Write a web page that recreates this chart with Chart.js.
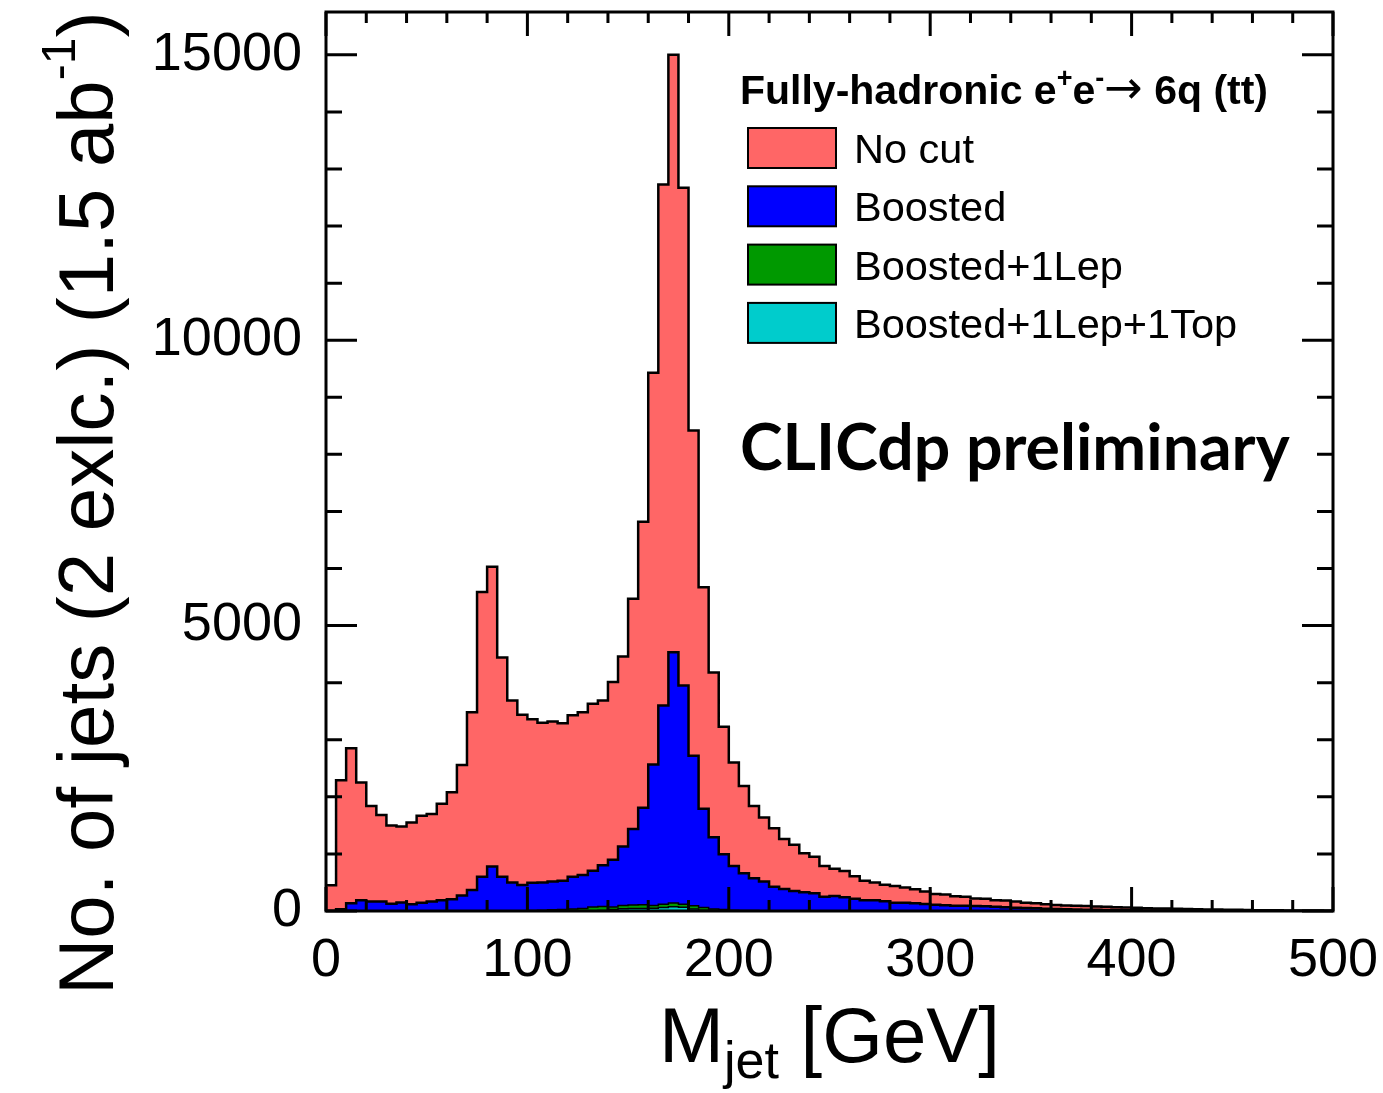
<!DOCTYPE html>
<html lang="en">
<head>
  <meta charset="UTF-8">
  <title>Jet mass - CLICdp preliminary</title>
  <script src="https://cdn.jsdelivr.net/npm/chart.js"></script>
  <style>
    html, body { margin: 0; padding: 0; background: #fff; }
    #grafico { display: block; }
  </style>
</head>
<body>
  <canvas id="grafico" width="1383" height="1093"></canvas>

  <script>
    // histogram: 100 bins of 5 GeV, from 0 to 500 GeV
    const BIN_WIDTH = 5;

    const noCut = [
      450, 2290, 2850, 2250, 1840, 1680, 1500, 1480, 1550, 1670,
      1700, 1880, 2080, 2560, 3480, 5590, 6030, 4440, 3690, 3440,
      3360, 3300, 3320, 3290, 3430, 3480, 3630, 3690, 4010, 4460,
      5470, 6820, 9430, 12730, 15000, 12670, 8420, 5670, 4180, 3230,
      2600, 2190, 1840, 1640, 1450, 1260, 1160, 1010, 950, 790,
      740, 700, 610, 530, 500, 460, 440, 410, 380, 340,
      300, 290, 260, 250, 220, 215, 190, 185, 165, 145,
      135, 120, 105, 95, 92, 88, 78, 75, 65, 60,
      55, 50, 45, 42, 40, 35, 30, 28, 25, 22,
      20, 18, 15, 14, 12, 10, 9, 8, 7, 6
    ];
    const boosted = [
      0, 30, 135, 190, 165, 165, 125, 150, 120, 145,
      165, 190, 205, 270, 370, 600, 780, 600, 500, 455,
      495, 500, 515, 530, 600, 630, 705, 800, 900, 1130,
      1435, 1810, 2565, 3600, 4535, 3950, 2720, 1790, 1290, 995,
      790, 660, 575, 515, 426, 386, 351, 327, 310, 251,
      263, 240, 216, 190, 187, 170, 146, 146, 135, 123,
      111, 100, 94, 94, 88, 82, 76, 65, 58, 52,
      46, 40, 35, 30, 27, 24, 20, 18, 16, 14,
      12, 10, 9, 8, 7, 6, 5, 5, 4, 4,
      3, 3, 2, 2, 2, 1, 1, 1, 1, 1
    ];
    const boosted1Lep = [
      0, 0, 0, 0, 0, 0, 0, 0, 0, 0,
      0, 0, 0, 0, 0, 0, 0, 0, 0, 0,
      10, 15, 20, 25, 35, 45, 70, 80, 70, 95,
      105, 110, 95, 120, 140, 120, 90, 60, 35, 25,
      15, 10, 8, 5, 3, 3, 2, 2, 1, 1,
      0, 0, 0, 0, 0, 0, 0, 0, 0, 0,
      0, 0, 0, 0, 0, 0, 0, 0, 0, 0,
      0, 0, 0, 0, 0, 0, 0, 0, 0, 0,
      0, 0, 0, 0, 0, 0, 0, 0, 0, 0,
      0, 0, 0, 0, 0, 0, 0, 0, 0, 0
    ];
    const boosted1Lep1Top = [
      0, 0, 0, 0, 0, 0, 0, 0, 0, 0,
      0, 0, 0, 0, 0, 0, 0, 0, 0, 0,
      0, 0, 0, 0, 0, 0, 5, 10, 25, 40,
      45, 45, 50, 60, 75, 65, 35, 15, 8, 3,
      0, 0, 0, 0, 0, 0, 0, 0, 0, 0,
      0, 0, 0, 0, 0, 0, 0, 0, 0, 0,
      0, 0, 0, 0, 0, 0, 0, 0, 0, 0,
      0, 0, 0, 0, 0, 0, 0, 0, 0, 0,
      0, 0, 0, 0, 0, 0, 0, 0, 0, 0,
      0, 0, 0, 0, 0, 0, 0, 0, 0, 0
    ];

    const xTicks = [0, 100, 200, 300, 400, 500];
    const yTicks = [0, 5000, 10000, 15000];
    const legendLabels = ['No cut', 'Boosted', 'Boosted+1Lep', 'Boosted+1Lep+1Top'];
    const legendColors = ['#ff6666', '#0000ff', '#009900', '#00cccc'];

    const FONT = '"Liberation Sans", Arial, Helvetica, sans-serif';

    // bin contents -> points on the low edges, plus the closing edge
    function toSteps(values) {
      const pts = values.map((v, i) => ({ x: i * BIN_WIDTH, y: v }));
      pts.push({ x: values.length * BIN_WIDTH, y: values[values.length - 1] });
      return pts;
    }

    function drawRuns(c, runs, x, y) {
      let cx = x;
      runs.forEach(r => {
        c.font = r.font;
        c.fillText(r.text, cx, y + (r.dy || 0));
        cx += c.measureText(r.text).width;
      });
      return cx;
    }

    function runsWidth(c, runs) {
      let w = 0;
      runs.forEach(r => { c.font = r.font; w += c.measureText(r.text).width; });
      return w;
    }

    const rootStyle = {
      id: 'rootStyle',
      afterDraw(chart) {
        const c = chart.ctx;
        const { left, right, top, bottom } = chart.chartArea;
        const xs = chart.scales.x, ys = chart.scales.y;
        c.save();

        // ticks inside the frame, on all four sides
        c.strokeStyle = '#000';
        c.lineWidth = 3;
        c.beginPath();
        for (let v = 0; v <= 500; v += 20) {
          const len = v % 100 === 0 ? 24 : 11;
          const px = xs.getPixelForValue(v);
          c.moveTo(px, bottom); c.lineTo(px, bottom - len);
          c.moveTo(px, top); c.lineTo(px, top + len);
        }
        for (let v = 0; v <= ys.max; v += 1000) {
          const len = v % 5000 === 0 ? 31 : 16;
          const py = ys.getPixelForValue(v);
          c.moveTo(left, py); c.lineTo(left + len, py);
          c.moveTo(right, py); c.lineTo(right - len, py);
        }
        c.stroke();
        c.strokeRect(left, top, right - left, bottom - top);

        c.fillStyle = '#000';
        c.textBaseline = 'alphabetic';
        c.textAlign = 'left';

        // x title
        const xRuns = [
          { text: 'M', font: '78px ' + FONT },
          { text: 'jet', font: '52px ' + FONT, dy: 16 },
          { text: ' [GeV]', font: '78px ' + FONT }
        ];
        const xw = runsWidth(c, xRuns);
        drawRuns(c, xRuns, (left + right) / 2 - xw / 2, 1062);

        // y title
        c.save();
        c.translate(113, 995);
        c.rotate(-Math.PI / 2);
        drawRuns(c, [
          { text: 'No. of jets (2 exlc.) (1.5 ab', font: '78px ' + FONT },
          { text: '-1', font: '48px ' + FONT, dy: -38 },
          { text: ')', font: '78px ' + FONT }
        ], 0, 0);
        c.restore();

        // legend header
        drawRuns(c, [
          { text: 'Fully-hadronic e', font: 'bold 41px ' + FONT },
          { text: '+', font: 'bold 27px ' + FONT, dy: -17 },
          { text: 'e', font: 'bold 41px ' + FONT },
          { text: '-', font: 'bold 27px ' + FONT, dy: -17 },
          { text: '\u2192', font: '46px "DejaVu Sans", ' + FONT, dy: -1 },
          { text: ' 6q (tt)', font: 'bold 41px ' + FONT }
        ], 740, 104);

        // legend entries
        legendLabels.forEach((lab, i) => {
          const by = 128 + i * 58.3;
          c.fillStyle = legendColors[i];
          c.fillRect(748, by, 88, 40);
          c.lineWidth = 2;
          c.strokeStyle = '#000';
          c.strokeRect(748, by, 88, 40);
          c.fillStyle = '#000';
          c.font = '41.5px ' + FONT;
          c.fillText(lab, 854, by + 35);
        });

        // CLICdp label, fitted to its width in the figure
        const tag = 'CLICdp preliminary';
        c.font = 'bold 58px Lato, "Open Sans", sans-serif';
        const size = 58 * 550 / c.measureText(tag).width;
        c.font = 'bold ' + size.toFixed(1) + 'px Lato, "Open Sans", sans-serif';
        c.fillText(tag, 740, 470);

        c.restore();
      }
    };

    // 'before': each segment keeps the value of its low edge
    const lineStyle = { pointRadius: 0, stepped: 'before', fill: 'origin', borderColor: '#000', tension: 0 };

    const grafico = new Chart(document.getElementById('grafico').getContext('2d'), {
      type: 'line',
      data: {
        datasets: [
          { label: legendLabels[0], data: toSteps(noCut), backgroundColor: legendColors[0], borderWidth: 2.5, order: 4, ...lineStyle },
          { label: legendLabels[1], data: toSteps(boosted), backgroundColor: legendColors[1], borderWidth: 2.5, order: 3, ...lineStyle },
          { label: legendLabels[2], data: toSteps(boosted1Lep), backgroundColor: legendColors[2], borderWidth: 1.5, order: 2, ...lineStyle },
          { label: legendLabels[3], data: toSteps(boosted1Lep1Top), backgroundColor: legendColors[3], borderWidth: 1.5, order: 1, ...lineStyle }
        ]
      },
      options: {
        responsive: false,
        animation: false,
        layout: { padding: { top: 12, right: 50, left: 0, bottom: 0 } },
        plugins: {
          legend: { display: false },
          tooltip: { enabled: false }
        },
        scales: {
          x: {
            type: 'linear',
            min: 0,
            max: 500,
            grid: { display: false, drawTicks: false },
            border: { display: false },
            afterBuildTicks: s => { s.ticks = xTicks.map(v => ({ value: v })); },
            afterFit: s => { s.height = 182; s.paddingLeft = 0; s.paddingRight = 0; },
            ticks: {
              color: '#000',
              font: { family: FONT, size: 54 },
              padding: 18,
              maxRotation: 0,
              autoSkip: false,
              callback: v => String(v)
            }
          },
          y: {
            type: 'linear',
            min: 0,
            max: 15750,
            grid: { display: false, drawTicks: false },
            border: { display: false },
            afterBuildTicks: s => { s.ticks = yTicks.map(v => ({ value: v })); },
            afterFit: s => { s.width = 326; s.paddingTop = 0; s.paddingBottom = 0; },
            ticks: {
              color: '#000',
              font: { family: FONT, size: 54 },
              padding: 24,
              autoSkip: false,
              callback: v => String(v)
            }
          }
        }
      },
      plugins: [rootStyle]
    });
  </script>
</body>
</html>
